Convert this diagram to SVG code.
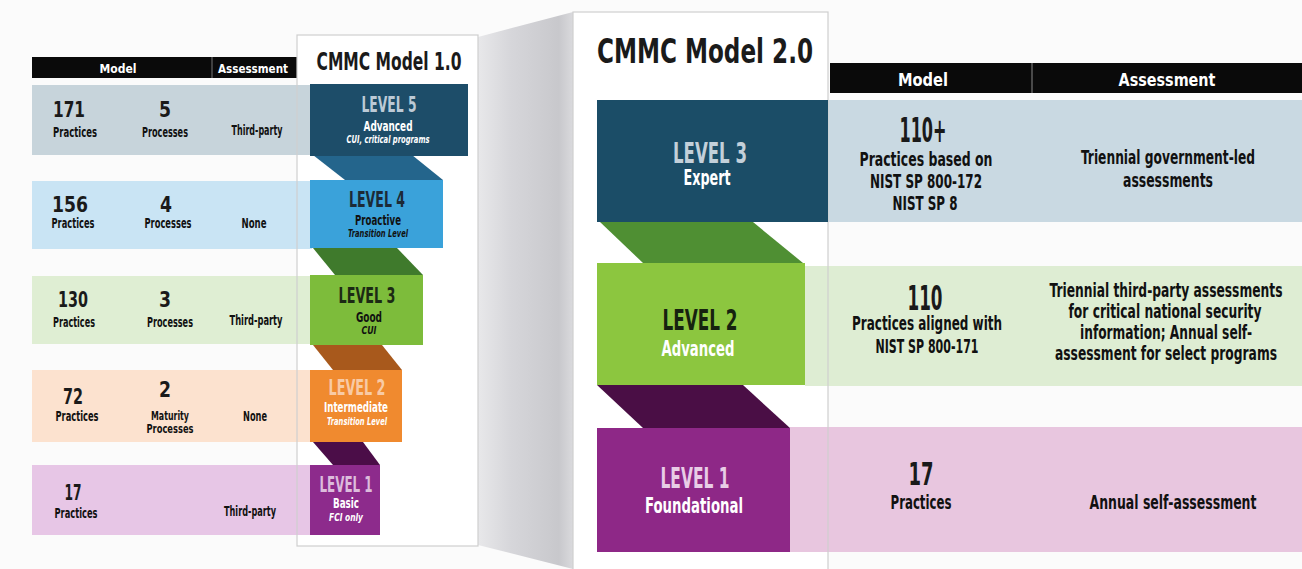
<svg xmlns="http://www.w3.org/2000/svg" width="1302" height="569" viewBox="0 0 1302 569">
<defs>
<linearGradient id="wall" x1="0" y1="0" x2="1" y2="0">
<stop offset="0" stop-color="#e8e8ea"/>
<stop offset="0.35" stop-color="#d6d6da"/>
<stop offset="0.85" stop-color="#c8c8cc"/>
<stop offset="1" stop-color="#dadadd"/>
</linearGradient>
<style>
text{font-family:"Liberation Sans Narrow","DejaVu Sans Condensed","Roboto","Liberation Sans",sans-serif;font-weight:bold;text-anchor:middle;}
.t{fill:#111;}
.w{fill:#fff;}
.it{font-style:italic;}
.hd{fill:#fff;}
.num{fill:#1a1a1a;}
.panel{fill:#fff;}
.pborder{fill:none;stroke:#cfcfcf;stroke-width:1.2;}
</style>
</defs>
<rect x="0" y="0" width="1302" height="569" fill="#fbfbfb"/>

<!-- 3D wall between panels -->
<g id="wall-face">
<polygon points="478,37 573,12 573,569 478,545" fill="url(#wall)"/>
</g>

<!-- panels -->
<g id="panel-1">
<rect class="panel" x="297" y="35" width="181" height="511"/>
</g>
<g id="panel-2">
<rect class="panel" x="573" y="12" width="255" height="560"/>
</g>

<!-- left table header -->
<g id="left-header">
<rect x="32" y="57" width="265" height="21" fill="#0a0a0a"/>
<line x1="212" y1="57" x2="212" y2="78" stroke="#777" stroke-width="1"/>
<text class="hd" x="118" y="73" font-size="12" textLength="37" lengthAdjust="spacingAndGlyphs">Model</text>
<text class="hd" x="253" y="73" font-size="12" textLength="70" lengthAdjust="spacingAndGlyphs">Assessment</text>
</g>

<!-- left rows -->
<g id="row-171">
<rect x="32" y="85" width="280" height="70" fill="#c7d4db"/>
<text class="num" x="69" y="117" font-size="22" textLength="32" lengthAdjust="spacingAndGlyphs">171</text>
<text class="t" x="75" y="137" font-size="14" textLength="44" lengthAdjust="spacingAndGlyphs">Practices</text>
<text class="num" x="165" y="117" font-size="22" textLength="12" lengthAdjust="spacingAndGlyphs">5</text>
<text class="t" x="165" y="137" font-size="14" textLength="46" lengthAdjust="spacingAndGlyphs">Processes</text>
<text class="t" x="257" y="135" font-size="14" textLength="51" lengthAdjust="spacingAndGlyphs">Third-party</text>
</g>
<g id="row-156">
<rect x="32" y="181" width="280" height="68" fill="#c9e4f4"/>
<text class="num" x="70" y="212" font-size="22" textLength="36" lengthAdjust="spacingAndGlyphs">156</text>
<text class="t" x="73" y="228" font-size="14" textLength="43" lengthAdjust="spacingAndGlyphs">Practices</text>
<text class="num" x="166" y="212" font-size="22" textLength="12" lengthAdjust="spacingAndGlyphs">4</text>
<text class="t" x="168" y="228" font-size="14" textLength="47" lengthAdjust="spacingAndGlyphs">Processes</text>
<text class="t" x="254" y="228" font-size="14" textLength="25" lengthAdjust="spacingAndGlyphs">None</text>
</g>
<g id="row-130">
<rect x="32" y="276" width="280" height="68" fill="#dfeed3"/>
<text class="num" x="73" y="307" font-size="22" textLength="30" lengthAdjust="spacingAndGlyphs">130</text>
<text class="t" x="74" y="327" font-size="14" textLength="42" lengthAdjust="spacingAndGlyphs">Practices</text>
<text class="num" x="165" y="307" font-size="22" textLength="12" lengthAdjust="spacingAndGlyphs">3</text>
<text class="t" x="170" y="327" font-size="14" textLength="46" lengthAdjust="spacingAndGlyphs">Processes</text>
<text class="t" x="256" y="325" font-size="14" textLength="53" lengthAdjust="spacingAndGlyphs">Third-party</text>
</g>
<g id="row-72">
<rect x="32" y="370" width="280" height="72" fill="#fce2cf"/>
<text class="num" x="73" y="404" font-size="22" textLength="20" lengthAdjust="spacingAndGlyphs">72</text>
<text class="t" x="77" y="421" font-size="14" textLength="43" lengthAdjust="spacingAndGlyphs">Practices</text>
<text class="num" x="165" y="397" font-size="22" textLength="12" lengthAdjust="spacingAndGlyphs">2</text>
<text class="t" x="170" y="420" font-size="13" textLength="38" lengthAdjust="spacingAndGlyphs">Maturity</text>
<text class="t" x="170" y="433" font-size="13" textLength="47" lengthAdjust="spacingAndGlyphs">Processes</text>
<text class="t" x="255" y="421" font-size="14" textLength="24" lengthAdjust="spacingAndGlyphs">None</text>
</g>
<g id="row-17">
<rect x="32" y="465" width="280" height="70" fill="#e7c6e6"/>
<text class="num" x="73" y="500" font-size="22" textLength="17" lengthAdjust="spacingAndGlyphs">17</text>
<text class="t" x="76" y="518" font-size="14" textLength="43" lengthAdjust="spacingAndGlyphs">Practices</text>
<text class="t" x="250" y="516" font-size="14" textLength="52" lengthAdjust="spacingAndGlyphs">Third-party</text>
</g>

<g id="panel-1-border">
<rect class="pborder" x="297" y="35" width="181" height="511"/>
<text class="num" x="389" y="70" font-size="25" textLength="145" lengthAdjust="spacingAndGlyphs">CMMC Model 1.0</text>
</g>

<!-- right table -->
<g id="right-header">
<rect x="830" y="63" width="472" height="30" fill="#0a0a0a"/>
<line x1="1032" y1="63" x2="1032" y2="93" stroke="#888" stroke-width="1"/>
<text class="hd" x="923" y="86" font-size="18" textLength="50" lengthAdjust="spacingAndGlyphs">Model</text>
<text class="hd" x="1167" y="86" font-size="18" textLength="97" lengthAdjust="spacingAndGlyphs">Assessment</text>
</g>
<g id="row-110plus">
<rect x="828" y="100" width="474" height="122" fill="#c9d9e2"/>
<text class="num" x="923" y="142" font-size="33" textLength="47" lengthAdjust="spacingAndGlyphs">110+</text>
<text class="t" x="926" y="166" font-size="19" textLength="133" lengthAdjust="spacingAndGlyphs">Practices based on</text>
<text class="t" x="926" y="188" font-size="19" textLength="112" lengthAdjust="spacingAndGlyphs">NIST SP 800-172</text>
<text class="t" x="925" y="210" font-size="19" textLength="65" lengthAdjust="spacingAndGlyphs">NIST SP 8</text>
<text class="t" x="1168" y="164" font-size="19" textLength="174" lengthAdjust="spacingAndGlyphs">Triennial government-led</text>
<text class="t" x="1168" y="187" font-size="19" textLength="90" lengthAdjust="spacingAndGlyphs">assessments</text>
</g>
<g id="row-110">
<rect x="805" y="266" width="497" height="120" fill="#deedd3"/>
<text class="num" x="925" y="310" font-size="33" textLength="35" lengthAdjust="spacingAndGlyphs">110</text>
<text class="t" x="927" y="330" font-size="19" textLength="150" lengthAdjust="spacingAndGlyphs">Practices aligned with</text>
<text class="t" x="927" y="353" font-size="19" textLength="103" lengthAdjust="spacingAndGlyphs">NIST SP 800-171</text>
<text class="t" x="1166" y="297" font-size="19" textLength="233" lengthAdjust="spacingAndGlyphs">Triennial third-party assessments</text>
<text class="t" x="1165" y="318" font-size="19" textLength="193" lengthAdjust="spacingAndGlyphs">for critical national security</text>
<text class="t" x="1166" y="339" font-size="19" textLength="172" lengthAdjust="spacingAndGlyphs">information; Annual self-</text>
<text class="t" x="1166" y="360" font-size="19" textLength="222" lengthAdjust="spacingAndGlyphs">assessment for select programs</text>
</g>
<g id="row-17-v2">
<rect x="790" y="427" width="512" height="125" fill="#e8c6df"/>
<text class="num" x="921" y="485" font-size="32" textLength="25" lengthAdjust="spacingAndGlyphs">17</text>
<text class="t" x="921" y="509" font-size="19" textLength="61" lengthAdjust="spacingAndGlyphs">Practices</text>
<text class="t" x="1173" y="509" font-size="19" textLength="167" lengthAdjust="spacingAndGlyphs">Annual self-assessment</text>
</g>

<g id="panel-2-border">
<rect class="pborder" x="573" y="12" width="255" height="560"/>
<text class="num" x="705" y="63" font-size="34" textLength="216" lengthAdjust="spacingAndGlyphs">CMMC Model 2.0</text>
</g>

<!-- connectors: folded ribbon segments between levels -->
<g id="connectors">
<polygon points="313,155 412,155 443,180 345,180" fill="#24658c"/>
<polygon points="313,248 397,248 423,275 335,275" fill="#3f7a2c"/>
<polygon points="313,345 382,345 402,370 333,370" fill="#a8591c"/>
<polygon points="313,442 363,442 380,465 333,465" fill="#4b0d48"/>
<polygon points="600,222 753,222 803,263 643,263" fill="#4f8f33"/>
<polygon points="597,385 743,385 790,428 643,428" fill="#4a0e45"/>
</g>

<!-- CMMC 1.0 levels -->
<g id="v1-level5">
<rect x="310" y="84" width="158" height="72" fill="#1d4d69"/>
<text x="389" y="112" font-size="22" fill="#bccad6" textLength="55" lengthAdjust="spacingAndGlyphs">LEVEL 5</text>
<text class="w" x="388" y="131" font-size="14" textLength="49" lengthAdjust="spacingAndGlyphs">Advanced</text>
<text class="w it" x="388" y="143" font-size="10" textLength="83" lengthAdjust="spacingAndGlyphs">CUI, critical programs</text>
</g>
<g id="v1-level4">
<rect x="310" y="180" width="133" height="68" fill="#3aa2da"/>
<text x="377" y="207" font-size="22" fill="#1c2a36" textLength="56" lengthAdjust="spacingAndGlyphs">LEVEL 4</text>
<text class="t" x="378" y="225" font-size="14" textLength="46" lengthAdjust="spacingAndGlyphs">Proactive</text>
<text class="t it" x="378" y="237" font-size="10" textLength="60" lengthAdjust="spacingAndGlyphs">Transition Level</text>
</g>
<g id="v1-level3">
<rect x="310" y="275" width="113" height="70" fill="#7dbc3b"/>
<text x="367" y="303" font-size="22" fill="#1c2a14" textLength="57" lengthAdjust="spacingAndGlyphs">LEVEL 3</text>
<text class="t" x="369" y="322" font-size="14" textLength="26" lengthAdjust="spacingAndGlyphs">Good</text>
<text class="t it" x="369" y="334" font-size="10" textLength="15" lengthAdjust="spacingAndGlyphs">CUI</text>
</g>
<g id="v1-level2">
<rect x="310" y="370" width="92" height="72" fill="#f08a2f"/>
<text x="357" y="395" font-size="22" fill="#f8caa5" textLength="57" lengthAdjust="spacingAndGlyphs">LEVEL 2</text>
<text class="w" x="356" y="412" font-size="14" textLength="64" lengthAdjust="spacingAndGlyphs">Intermediate</text>
<text class="w it" x="357" y="425" font-size="10" textLength="60" lengthAdjust="spacingAndGlyphs">Transition Level</text>
</g>
<g id="v1-level1">
<rect x="310" y="465" width="70" height="70" fill="#8d2b8c"/>
<text x="346" y="492" font-size="22" fill="#dcbcdc" textLength="53" lengthAdjust="spacingAndGlyphs">LEVEL 1</text>
<text class="w" x="346" y="508" font-size="14" textLength="26" lengthAdjust="spacingAndGlyphs">Basic</text>
<text class="w it" x="346" y="521" font-size="10" textLength="34" lengthAdjust="spacingAndGlyphs">FCI only</text>
</g>

<!-- CMMC 2.0 levels -->
<g id="v2-level3">
<rect x="597" y="100" width="231" height="122" fill="#1b4d67"/>
<text x="710" y="163" font-size="29" fill="#c3d0da" textLength="74" lengthAdjust="spacingAndGlyphs">LEVEL 3</text>
<text class="w" x="707" y="185" font-size="21" textLength="47" lengthAdjust="spacingAndGlyphs">Expert</text>
</g>
<g id="v2-level2">
<rect x="597" y="263" width="208" height="122" fill="#8cc63f"/>
<text x="700" y="330" font-size="29" fill="#16220f" textLength="75" lengthAdjust="spacingAndGlyphs">LEVEL 2</text>
<text class="w" x="698" y="356" font-size="21" textLength="73" lengthAdjust="spacingAndGlyphs">Advanced</text>
</g>
<g id="v2-level1">
<rect x="597" y="428" width="193" height="124" fill="#8e2887"/>
<text x="695" y="488" font-size="29" fill="#e8cde6" textLength="69" lengthAdjust="spacingAndGlyphs">LEVEL 1</text>
<text class="w" x="694" y="513" font-size="21" textLength="98" lengthAdjust="spacingAndGlyphs">Foundational</text>
</g>
</svg>
